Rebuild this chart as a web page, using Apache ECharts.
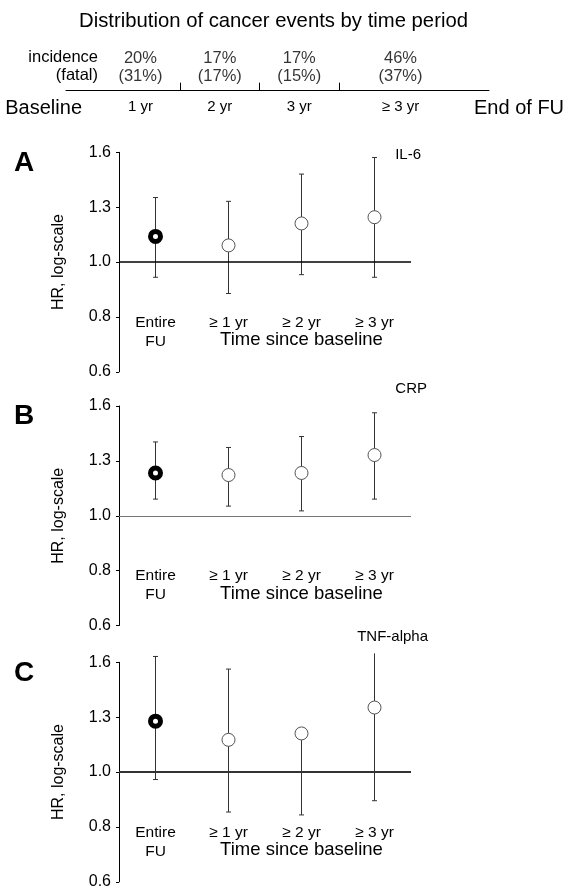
<!DOCTYPE html>
<html><head><meta charset="utf-8">
<script src="https://cdn.jsdelivr.net/npm/echarts@6/dist/echarts.min.js"></script>
<style>html,body{margin:0;padding:0;background:#fff}#c{width:567px;height:887px}</style>
</head><body><div id="c"></div>
<script>
// ---------- data ----------
const chartTitle = 'Distribution of cancer events by time period';
const periodLabels = ['1 yr', '2 yr', '3 yr', '≥ 3 yr'];
const periodEdges = [0, 1, 2, 3, 4.55];          // years from baseline to end of FU
const incidencePct = [20, 17, 17, 46];
const fatalPct = [31, 17, 15, 37];

const categories = ['Entire\nFU', '≥ 1 yr', '≥ 2 yr', '≥ 3 yr'];
const yTickValues = [0.64, 0.8, 1.0, 1.25, 1.5625]; // log(1.25) steps, labelled 0.6 ... 1.6

const il6HR  = [1.11, 1.07, 1.17, 1.20];
const il6Lo  = [0.94, 0.88, 0.95, 0.94];
const il6Hi  = [1.30, 1.28, 1.43, 1.53];

const crpHR  = [1.19, 1.18, 1.19, 1.28];
const crpLo  = [1.07, 1.04, 1.02, 1.07];
const crpHi  = [1.35, 1.32, 1.38, 1.52];

const tnfHR  = [1.23, 1.14, 1.17, 1.30];
const tnfLo  = [0.97, 0.85, 0.84, 0.89];
const tnfHi  = [1.60, 1.52, null, 1.62];

// ---------- layout ----------
const FONT = "'Liberation Sans', Arial, sans-serif";
const gridLeft = 119, gridWidth = 292, gridHeight = 219.5;
const catW = gridWidth / categories.length;
const panels = [
  {letter: 'A', name: 'IL-6',      hr: il6HR, lo: il6Lo, hi: il6Hi, top: 152.3, nameRight: 421, nameY: 155, refColor: '#000', refWidth: 1.6},
  {letter: 'B', name: 'CRP',       hr: crpHR, lo: crpLo, hi: crpHi, top: 406,   nameRight: 427, nameY: 388.5, refColor: '#777', refWidth: 1.1},
  {letter: 'C', name: 'TNF-alpha', hr: tnfHR, lo: tnfLo, hi: tnfHi, top: 662.3, nameRight: 428, nameY: 636.5, refColor: '#333', refWidth: 1.8}
];
const yMin = yTickValues[0], yMax = yTickValues[yTickValues.length - 1];

// header timeline
const hdr = {left: 66, width: 423, top: 40, height: 50.7, xMin: -0.437, xMax: 4.89};
const mids = periodEdges.slice(0, -1).map((e, i) => (e + periodEdges[i + 1]) / 2);

const grids = [{left: hdr.left, width: hdr.width, top: hdr.top, height: hdr.height, outerBoundsMode: 'none'}];
const xAxes = [{
  gridIndex: 0, type: 'value', min: hdr.xMin, max: hdr.xMax,
  axisLine: {show: true, lineStyle: {color: '#000', width: 1}},
  axisTick: {show: true, inside: true, length: 8, customValues: periodEdges.slice(1, -1), lineStyle: {color: '#000', width: 1}},
  axisLabel: {show: true, customValues: mids, margin: 9, fontSize: 15, color: '#000', fontFamily: FONT,
    formatter: v => periodLabels[mids.findIndex(m => Math.abs(m - v) < 1e-6)] || ''},
  splitLine: {show: false}
}];
const yAxes = [{gridIndex: 0, type: 'value', min: 0, max: 1, show: false}];
const series = [{
  type: 'scatter', xAxisIndex: 0, yAxisIndex: 0, symbolSize: 0, silent: true, clip: false,
  data: mids.map((m, i) => ({value: [m, 0.45], label: {formatter: incidencePct[i] + '%\n(' + fatalPct[i] + '%)'}})),
  label: {show: true, position: 'inside', fontSize: 16.5, lineHeight: 18, color: '#000', fontFamily: FONT},
  markLine: {
    silent: true, symbol: ['none', 'arrow'], symbolSize: 8, animation: false,
    lineStyle: {color: '#000', width: 1.3, type: 'solid'}, label: {show: false},
    data: [
      [{coord: [periodEdges[0], -0.72]}, {coord: [periodEdges[0], -0.02]}],
      [{coord: [periodEdges[4], -0.72]}, {coord: [periodEdges[4], -0.02]}]
    ]
  }
}];

const graphics = [
  {type: 'text', x: 273.5, y: 21.5, style: {text: chartTitle, font: '20.3px ' + FONT, fill: '#000', align: 'center', verticalAlign: 'middle'}},
  {type: 'text', x: 98, y: 66, style: {text: 'incidence\n(fatal)', font: '16.5px ' + FONT, lineHeight: 18, fill: '#000', align: 'right', verticalAlign: 'middle'}},
  {type: 'text', x: 82, y: 108, style: {text: 'Baseline', font: '20px ' + FONT, fill: '#000', align: 'right', verticalAlign: 'middle'}},
  {type: 'text', x: 474, y: 108, style: {text: 'End of FU', font: '20px ' + FONT, fill: '#000', align: 'left', verticalAlign: 'middle'}}
];

panels.forEach((p, k) => {
  const gi = k + 1;
  grids.push({left: gridLeft, width: gridWidth, top: p.top, height: gridHeight, outerBoundsMode: 'none'});
  xAxes.push({
    gridIndex: gi, type: 'category', data: categories, boundaryGap: true, offset: -63,
    axisLine: {show: false}, axisTick: {show: false},
    axisLabel: {interval: 0, margin: 4, fontSize: 15.5, lineHeight: 19, color: '#000', fontFamily: FONT}
  });
  yAxes.push({
    gridIndex: gi, type: 'log', logBase: 1.25, min: yMin, max: yMax,
    axisLine: {show: true, lineStyle: {color: '#000', width: 1}},
    axisTick: {show: true, length: 3, lineStyle: {color: '#000', width: 1}},
    axisLabel: {formatter: v => Number(v).toFixed(1), fontSize: 16, color: '#000', margin: 8, fontFamily: FONT},
    splitLine: {show: false},
    name: 'HR, log-scale', nameLocation: 'middle', nameGap: 52,
    nameTextStyle: {fontSize: 16, color: '#000', fontFamily: FONT}
  });
  // error bars
  series.push({
    type: 'custom', xAxisIndex: gi, yAxisIndex: gi, silent: true, z: 2, clip: false,
    data: p.hr.map((v, i) => [i, v, p.lo[i], p.hi[i] == null ? NaN : p.hi[i]]),
    renderItem: (params, api) => {
      const x = api.value(0), c = api.value(1), lo = api.value(2), hi = api.value(3);
      const pc = api.coord([x, c]);
      const pl = api.coord([x, lo]);
      const ph = isNaN(hi) ? pc : api.coord([x, hi]);
      const st = {stroke: '#333', lineWidth: 1};
      const ch = [{type: 'line', shape: {x1: pl[0], y1: pl[1], x2: ph[0], y2: ph[1]}, style: st}];
      const cw = 2.5;
      ch.push({type: 'line', shape: {x1: pl[0] - cw, y1: pl[1], x2: pl[0] + cw, y2: pl[1]}, style: st});
      if (!isNaN(hi) && hi <= 1.6) ch.push({type: 'line', shape: {x1: ph[0] - cw, y1: ph[1], x2: ph[0] + cw, y2: ph[1]}, style: st});
      return {type: 'group', children: ch};
    }
  });
  // points
  series.push({
    type: 'scatter', xAxisIndex: gi, yAxisIndex: gi, z: 5, silent: true, clip: false,
    symbol: 'circle', symbolSize: 13,
    itemStyle: {color: '#fff', borderColor: '#555', borderWidth: 1, opacity: 1},
    data: p.hr.map((v, i) => i === 0
      ? {value: [i, v], symbolSize: 10, itemStyle: {color: '#fff', borderColor: '#000', borderWidth: 5}}
      : {value: [i, v]}),
    markLine: {
      silent: true, symbol: ['none', 'none'], animation: false, label: {show: false},
      lineStyle: {color: p.refColor, width: p.refWidth, type: 'solid'},
      data: [{yAxis: 1}]
    }
  });
  graphics.push({type: 'text', x: 24, y: p.top + 10.5, style: {text: p.letter, font: 'bold 28px ' + FONT, fill: '#000', align: 'center', verticalAlign: 'middle'}});
  graphics.push({type: 'text', x: p.nameRight, y: p.nameY, style: {text: p.name, font: '15px ' + FONT, fill: '#000', align: 'right', verticalAlign: 'middle'}});
  graphics.push({type: 'text', x: gridLeft + catW * 2.5, y: p.top + 187.7, style: {text: 'Time since baseline', font: '18.5px ' + FONT, fill: '#000', align: 'center', verticalAlign: 'middle'}});
});

const chart = echarts.init(document.getElementById('c'), null, {renderer: 'canvas'});
chart.setOption({
  animation: false,
  backgroundColor: '#fff',
  textStyle: {fontFamily: FONT},
  grid: grids, xAxis: xAxes, yAxis: yAxes, series: series, graphic: graphics
});
</script>
</body></html>
